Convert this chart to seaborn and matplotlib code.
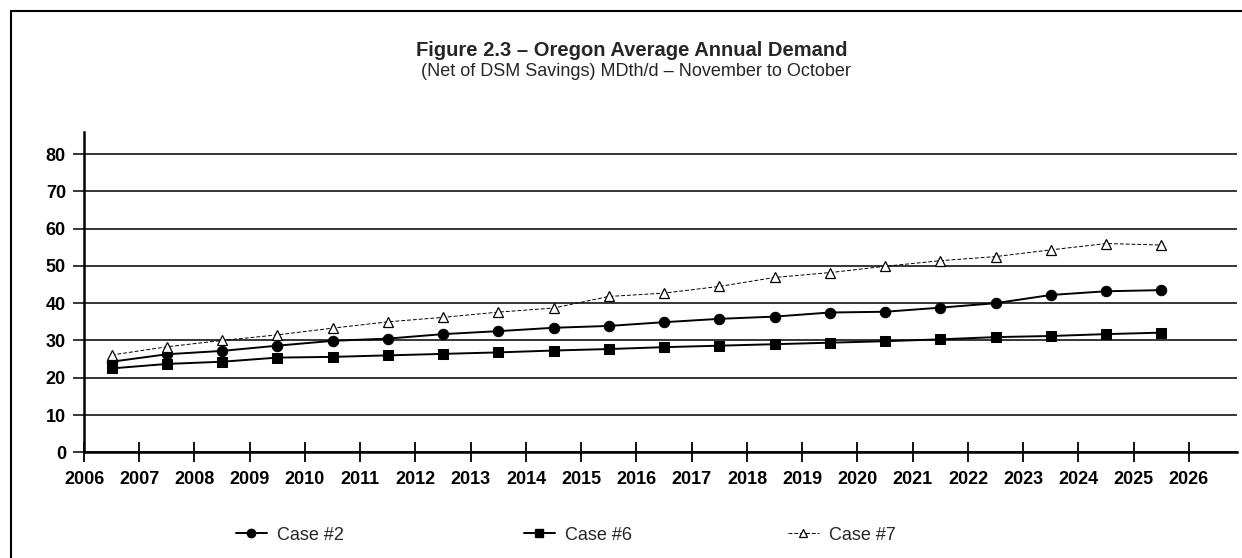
import matplotlib
matplotlib.use("Agg")
import matplotlib.pyplot as plt
from matplotlib.lines import Line2D
import seaborn as sns
import pandas as pd

# ---- data ----
years = list(range(2006, 2026))  # fiscal years Nov-Oct, plotted mid-year
case2 = [24.3, 26.3, 27.2, 28.6, 29.9, 30.5, 31.7, 32.5, 33.4, 33.9,
         34.9, 35.8, 36.4, 37.5, 37.7, 38.8, 40.0, 42.2, 43.2, 43.5]
case6 = [22.5, 23.7, 24.3, 25.4, 25.6, 26.0, 26.4, 26.8, 27.3, 27.7,
         28.2, 28.6, 29.0, 29.4, 29.8, 30.3, 30.9, 31.2, 31.7, 32.1]
case7 = [26.1, 28.3, 30.0, 31.5, 33.3, 35.0, 36.2, 37.6, 38.7, 41.8,
         42.7, 44.5, 46.9, 48.2, 49.9, 51.4, 52.5, 54.3, 56.0, 55.6]
series_names = ["Case #2", "Case #6", "Case #7"]
xtick_labels = [str(y) for y in range(2006, 2027)]
ytick_values = [0, 10, 20, 30, 40, 50, 60, 70, 80]
title = "Figure 2.3 \u2013 Oregon Average Annual Demand"
subtitle = "(Net of DSM Savings) MDth/d \u2013 November to October"

sns.set_style("white")
plt.rcParams["font.family"] = ["Liberation Sans", "DejaVu Sans"]

W, H = 1242, 558
fig = plt.figure(figsize=(W / 100, H / 100), dpi=100)
ax = fig.add_axes([84 / W, 1 - 452.3 / H, (1237 - 84) / W, (452.3 - 131.7) / H])

df = pd.DataFrame({
    "x": [y + 0.5 for y in years],
    "Case #2": case2, "Case #6": case6, "Case #7": case7,
})

styles = {
    "Case #2": dict(marker="o", markersize=7.5, linewidth=1.4, linestyle="-",
                    markerfacecolor="black", markeredgecolor="black"),
    "Case #6": dict(marker="s", markersize=6.5, linewidth=1.4, linestyle="-",
                    markerfacecolor="black", markeredgecolor="black"),
    "Case #7": dict(marker="^", markersize=7, linewidth=0.7, linestyle=(0, (4, 2)),
                    markerfacecolor="white", markeredgecolor="black",
                    markeredgewidth=0.9),
}
for name in series_names:
    sns.lineplot(data=df, x="x", y=name, ax=ax, color="black", **styles[name])

ax.set_xlim(2006, 2026.87)
ax.set_ylim(0, 86)
ax.set_xticks(range(2006, 2027))
ax.set_xticklabels(xtick_labels, fontsize=13, fontweight="bold")
ax.set_yticks(ytick_values)
ax.set_yticklabels([str(v) for v in ytick_values], fontsize=13, fontweight="bold")
ax.set_xlabel("")
ax.set_ylabel("")

ax.yaxis.grid(True, color="black", linewidth=1.1)
ax.xaxis.grid(False)
ax.set_axisbelow(True)
for s in ["top", "right"]:
    ax.spines[s].set_visible(False)
for s in ["left", "bottom"]:
    ax.spines[s].set_color("black")
    ax.spines[s].set_linewidth(1.8)

ax.tick_params(axis="x", direction="inout", length=15, width=1.3, pad=6,
               colors="black", bottom=True)
ax.tick_params(axis="y", direction="out", length=8, width=1.1, pad=5,
               colors="black", left=True)

# title
fig.text(632 / W, 1 - 50 / H, title, ha="center", va="center",
         fontsize=14.5, fontweight="bold")
fig.text(636 / W, 1 - 72 / H, subtitle, ha="center", va="center", fontsize=13)

# legends (three separate entries spaced like the reference)
leg_x = [236, 524, 788]
for name, lx in zip(series_names, leg_x):
    st = styles[name]
    h = Line2D([], [], color="black", **st)
    leg = fig.legend([h], [name], loc="center left",
                     bbox_to_anchor=(lx / W, 1 - 535 / H), frameon=False,
                     fontsize=13, handlelength=1.7, handletextpad=0.55,
                     borderpad=0, borderaxespad=0, numpoints=1,
                     markerscale=0.8)

# page frame (left and top border)
fig.add_artist(Line2D([11 / W, 11 / W], [0, 1 - 11 / H], color="black",
                      linewidth=1.5, transform=fig.transFigure))
fig.add_artist(Line2D([11 / W, 1], [1 - 11 / H, 1 - 11 / H], color="black",
                      linewidth=1.5, transform=fig.transFigure))

fig.savefig("out.png", dpi=100)
